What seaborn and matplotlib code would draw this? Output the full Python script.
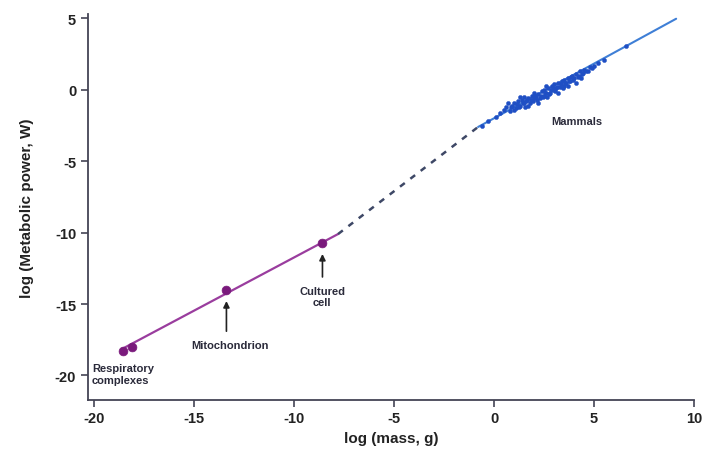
import matplotlib
matplotlib.use("Agg")
import matplotlib.pyplot as plt
import seaborn as sns

# ---- data ----
cell_x = [-18.57, -18.1, -13.38, -8.58]
cell_y = [-18.29, -18.0, -14.0, -10.74]

cell_fit_x = [-18.6, -7.8]
cell_fit_y = [-18.15, -10.1]

gap_fit_x = [-7.8, -0.8]
gap_fit_y = [-10.1, -2.6]

mammal_fit_x = [-0.8, 9.1]
mammal_fit_y = [-2.6, 4.98]

mammal_x = [-0.6, -0.3, 0.1, 0.3, 0.5, 0.6, 0.8, 0.9, 1.0, 1.1, 1.2, 1.3, 1.4, 1.5, 1.5,
            1.6, 1.7, 1.8, 1.9, 2.0, 2.0, 2.1, 2.2, 2.3, 2.4, 2.5, 2.5, 2.6, 2.7, 2.8,
            2.9, 3.0, 3.0, 3.1, 3.2, 3.3, 3.4, 3.5, 3.5, 3.6, 3.7, 3.8, 3.9, 4.0, 4.1,
            4.2, 4.3, 4.4, 4.5, 4.6, 4.8, 5.0, 5.2, 5.5, 6.6, 0.7, 1.0, 1.3, 1.7, 2.2,
            2.6, 3.2, 3.7, 4.1,
            0.85, 1.15, 1.45, 1.65, 1.85, 2.05, 2.35, 2.55, 2.75, 2.95, 3.15, 3.35,
            3.55, 3.75, 3.95, 4.25, 4.45, 4.7, 4.9, 1.25, 1.95, 2.45, 2.85, 3.45, 3.85,
            4.35, 1.55, 2.15, 2.65, 3.05]
mammal_y = [-2.5, -2.2, -1.9, -1.6, -1.4, -1.2, -1.5, -1.1, -0.9, -1.3, -0.8, -1.1, -0.7, -0.9, -0.5,
            -0.8, -0.6, -0.9, -0.4, -0.6, -0.2, -0.5, -0.3, -0.6, -0.1, -0.4, 0.0, -0.2, 0.1, -0.2,
            0.3, 0.0, 0.4, 0.1, 0.5, 0.2, 0.6, 0.3, 0.7, 0.5, 0.8, 0.6, 1.0, 0.8, 1.1,
            0.9, 1.3, 1.1, 1.4, 1.3, 1.6, 1.7, 1.9, 2.1, 3.1, -0.9, -1.4, -0.5, -1.1, -0.9,
            0.3, -0.2, 0.3, 0.5,
            -1.2, -1.0, -0.9, -0.7, -0.7, -0.4, -0.4, -0.2, -0.3, 0.1, 0.2, 0.4,
            0.5, 0.6, 0.7, 1.0, 1.2, 1.3, 1.5, -1.2, -0.8, -0.5, 0.0, 0.1, 0.9,
            0.8, -1.2, -0.7, -0.5, -0.1]

x_ticks = [-20, -15, -10, -5, 0, 5, 10]
y_ticks = [-20, -15, -10, -5, 0, 5]

# ---- style ----
sns.set_style("ticks")
plt.rcParams['font.family'] = ['Liberation Sans', 'DejaVu Sans']

fig = plt.figure(figsize=(7.04, 4.6), dpi=100)
ax = fig.add_axes([0.125, 0.129, 0.861, 0.838])

purple_line = "#9a3d9e"
purple_pt = "#7a1a7c"
blue_line = "#3f7fd6"
blue_pt = "#1f4fc4"
dash_col = "#3e4866"

sns.lineplot(x=cell_fit_x, y=cell_fit_y, ax=ax, color=purple_line, lw=1.6)
sns.lineplot(x=gap_fit_x, y=gap_fit_y, ax=ax, color=dash_col, lw=1.8,
             linestyle=(0, (2.4, 2.8)))
sns.lineplot(x=mammal_fit_x, y=mammal_fit_y, ax=ax, color=blue_line, lw=1.5)
sns.scatterplot(x=mammal_x, y=mammal_y, ax=ax, color=blue_pt, s=9,
                edgecolor=blue_pt, linewidth=0.3, zorder=3)
sns.scatterplot(x=cell_x, y=cell_y, ax=ax, color=purple_pt, s=40,
                edgecolor=purple_pt, linewidth=0.5, zorder=4)

ax.set_xlim(-20.3, 10.0)
ax.set_ylim(-21.7, 5.3)
ax.set_xticks(x_ticks)
ax.set_yticks(y_ticks)
ax.set_xticklabels([str(t) for t in x_ticks], fontsize=10.5, fontweight='bold', color="#222222")
ax.set_yticklabels([str(t) for t in y_ticks], fontsize=10.5, fontweight='bold', color="#222222")
ax.tick_params(axis='both', length=5, width=1.2, color="#444455")
for s in ["top", "right"]:
    ax.spines[s].set_visible(False)
for s in ["left", "bottom"]:
    ax.spines[s].set_color("#444455")
    ax.spines[s].set_linewidth(1.3)

ax.set_xlabel("log (mass, g)", fontsize=11, fontweight='bold', color="#222222", labelpad=4)
ax.set_ylabel("log (Metabolic power, W)", fontsize=11, fontweight='bold', color="#222222", labelpad=15)

txt = dict(fontsize=8, fontweight='bold', color="#2a2a3a")
ax.text(-20.1, -19.1, "Respiratory\ncomplexes", ha='left', va='top', linespacing=1.25, **txt)
ax.text(-13.2, -17.9, "Mitochondrion", ha='center', va='center', **txt)
ax.text(-8.6, -14.5, "Cultured\ncell", ha='center', va='center', linespacing=1.15, **txt)
ax.text(4.15, -2.2, "Mammals", ha='center', va='center', **txt)

arrow = dict(arrowstyle='-|>', color="#222222", lw=1.2, mutation_scale=9)
ax.annotate("", xy=(-13.38, -14.6), xytext=(-13.38, -17.1), arrowprops=arrow)
ax.annotate("", xy=(-8.58, -11.3), xytext=(-8.58, -13.3), arrowprops=arrow)

fig.savefig("out.png", dpi=100)
